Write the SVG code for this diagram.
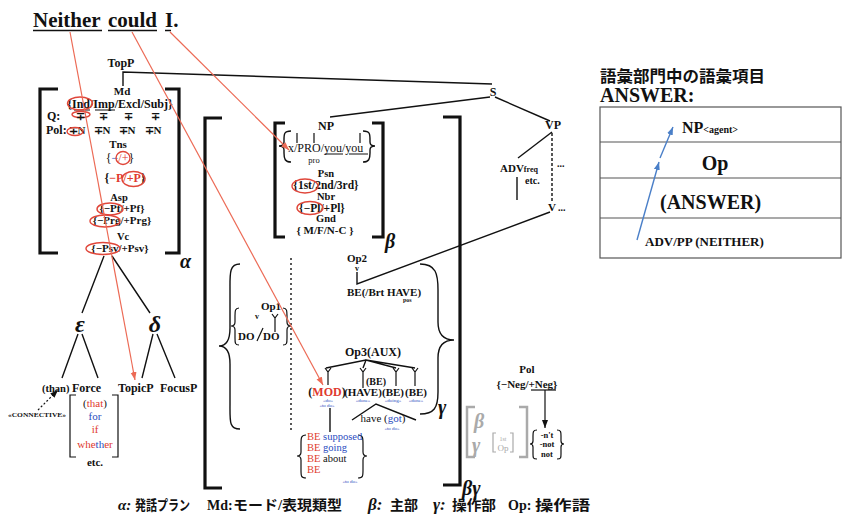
<svg xmlns="http://www.w3.org/2000/svg" width="844" height="516" viewBox="0 0 844 516">
<style>
.t{font-family:"Liberation Serif",serif;font-weight:bold;fill:#111}
.n{font-family:"Liberation Serif",serif;fill:#111}
.j{font-family:"Liberation Serif","Noto Sans CJK JP",sans-serif;font-weight:bold;fill:#111}
.g{font-family:"Liberation Serif",serif;font-weight:bold;font-style:italic;fill:#111}
.c{text-anchor:middle}
.red{fill:#e0392e}
.blu{fill:#2a4cc0}
.gr{fill:#aaa}
.ln{stroke:#111;fill:none;stroke-width:1.4}
.bk{stroke:#111;fill:none;stroke-width:3.2}
.br{stroke:#111;fill:none;stroke-width:1.2}
.rl{stroke:#ec6a55;stroke-width:1.2;fill:none}
.el{stroke:#e0463a;stroke-width:1.4;fill:none}
.tiny{font-family:"Liberation Serif",serif;font-size:5px;fill:#2a4cc0;text-anchor:middle}
</style>
<defs>
<marker id="ar" markerWidth="9" markerHeight="7" refX="8" refY="3" orient="auto" markerUnits="userSpaceOnUse"><path d="M0,0 L8,3 L0,6 z" fill="#ec6a55"/></marker>
<marker id="ab" markerWidth="9" markerHeight="7" refX="8" refY="3" orient="auto" markerUnits="userSpaceOnUse"><path d="M0,0 L8,3 L0,6 z" fill="#111"/></marker>
<marker id="au" markerWidth="9" markerHeight="7" refX="8" refY="3" orient="auto" markerUnits="userSpaceOnUse"><path d="M0,0 L8,3 L0,6 z" fill="#4a7fc8"/></marker>
</defs>
<rect width="844" height="516" fill="#fff"/>

<g id="title">
<text class="t" x="33" y="27" font-size="21">Neither</text>
<text class="t" x="108" y="27" font-size="21">could</text>
<text class="t" x="165" y="27" font-size="21">I.</text>
<path class="ln" d="M33,30.5H102M108,30.5H157M165,30.5H171"/>
</g>

<g id="alpha">
<text class="t c" x="121" y="67" font-size="12">TopP</text>
<text class="t c" x="122" y="94.5" font-size="11">Md</text>
<text class="t c" x="120" y="108" font-size="12">{Ind/Imp/Excl/Subj}</text>
<path class="br" d="M74,110H90M95,110H115"/>
<ellipse class="el" cx="80" cy="103.5" rx="12.5" ry="6.5"/>
<ellipse class="el" cx="81" cy="114.5" rx="9" ry="3"/>
<text class="t" x="47" y="120" font-size="12">Q:</text>
<text class="t c" x="80" y="120" font-size="11">∓</text>
<text class="t c" x="103" y="120" font-size="11">∓</text>
<text class="t c" x="128" y="120" font-size="11">∓</text>
<text class="t c" x="155" y="120" font-size="11">∓</text>
<text class="t" x="46" y="134" font-size="12">Pol:</text>
<text class="t c" x="77" y="134" font-size="11">∓N</text>
<text class="t c" x="102" y="134" font-size="11">∓N</text>
<text class="t c" x="127" y="134" font-size="11">∓N</text>
<text class="t c" x="153" y="134" font-size="11">∓N</text>
<ellipse class="el" cx="75" cy="131.5" rx="8" ry="4"/>
<text class="t c" x="118" y="148" font-size="11">Tns</text>
<text class="n c" x="120" y="162" font-size="12">{<tspan class="blu">−</tspan><tspan class="red">/+</tspan>}</text>
<ellipse class="el" cx="123" cy="158" rx="7" ry="6.5"/>
<text class="t c" x="125" y="182" font-size="12">{<tspan class="red">−P/+P</tspan>}</text>
<ellipse class="el" cx="133.5" cy="179" rx="11.5" ry="7.5"/>
<text class="t c" x="119" y="200.5" font-size="10.5">Asp</text>
<text class="t c" x="122" y="212" font-size="11">{−Pf/+Pf}</text>
<ellipse class="el" cx="110" cy="209" rx="13" ry="6"/>
<text class="t c" x="122" y="224" font-size="11">{−Prg/+Prg}</text>
<ellipse class="el" cx="105" cy="221" rx="15" ry="6"/>
<text class="t c" x="123" y="239.5" font-size="10.5">Vc</text>
<text class="t c" x="120" y="251.5" font-size="11">{−Psv/+Psv}</text>
<ellipse class="el" cx="103" cy="248.5" rx="17" ry="6"/>
<path class="bk" d="M58,89H40V253H58M165,89H179V253H165"/>
<text class="g" x="180" y="268" font-size="20">α</text>
</g>

<g id="eps">
<text class="g c" x="80" y="332" font-size="24">ε</text>
</g>
<g id="delta">
<text class="g c" x="155" y="332" font-size="24">δ</text>
</g>
<g id="leaves">
<text class="t" x="42" y="392" font-size="10.5">(than)</text>
<text class="t" x="72" y="392" font-size="12">Force</text>
<text class="t" x="118" y="392" font-size="12">TopicP</text>
<text class="t" x="160" y="392" font-size="12">FocusP</text>
</g>
<g id="connective">
<text class="t" x="8" y="417" font-size="6" textLength="58" lengthAdjust="spacingAndGlyphs">«CONNECTIVE»</text>
</g>
<g id="force-list">
<path class="br" stroke-width="2" d="M76,395H70V457H76M112,395H118V457H112"/>
<text class="n c" x="95" y="407" font-size="11">(<tspan class="red">that</tspan>)</text>
<text class="n c blu" x="95" y="420" font-size="11">for</text>
<text class="n c red" x="95" y="433" font-size="11">if</text>
<text class="n c red" x="95" y="448" font-size="11">whe<tspan class="blu">th</tspan>er</text>
<text class="t c" x="95" y="466" font-size="11">etc.</text>
</g>

<g id="np">
<path class="bk" stroke-width="3" d="M285,123H275V237H285M372,123H383V237H372"/>
<text class="g" x="385" y="248" font-size="20">β</text>
<text class="t c" x="326" y="130" font-size="12">NP</text>
<path class="ln" stroke-width="2" d="M291,131C284,131 284,134 284,140V142C284,145 282,146 279,146C282,146 284,147 284,150V153C284,159 285,162 291,162"/>
<path class="ln" stroke-width="2" d="M363,131C370,131 370,134 370,140V142C370,145 372,146 375,146C372,146 370,147 370,150V153C370,159 369,162 363,162"/>
<path class="br" d="M297,133V143M314,133V143M360,133V143"/>
<text class="n" x="288" y="152" font-size="12">x/PRO/you/you</text>
<path class="br" stroke-width="0.9" d="M325,154H343M349,154H368"/>
<text class="n c" x="314" y="163" font-size="8.5">pro</text>
<text class="t c" x="326" y="177" font-size="10.5">Psn</text>
<text class="t c" x="326" y="189" font-size="11.5">{1st/2nd/3rd}</text>
<ellipse class="el" cx="305" cy="186" rx="13" ry="7"/>
<text class="t c" x="326" y="199.5" font-size="10.5">Nbr</text>
<text class="t c" x="322" y="212" font-size="11.5">{−Pl/+Pl}</text>
<ellipse class="el" cx="310" cy="208" rx="13" ry="6.5"/>
<text class="t c" x="326" y="222" font-size="10.5">Gnd</text>
<text class="t c" x="325" y="233.5" font-size="11">{ M/F/N-C }</text>
</g>

<g id="S"><text class="t c" x="493" y="96" font-size="12">S</text></g>
<g id="VP"><text class="t c" x="553" y="129" font-size="12">VP</text></g>
<g id="advfreq">
<text class="t" x="500" y="172" font-size="11">ADV<tspan font-size="8">freq</tspan></text>
<text class="t" x="525" y="184" font-size="10">etc.</text>
<path class="ln" d="M517,177V200"/>
<text class="t" x="557" y="167" font-size="10">...</text>
</g>
<g id="V">
<text class="t" x="548" y="211" font-size="11">V</text>
<text class="t" x="558" y="211" font-size="10">...</text>
</g>

<g id="gamma-frame">
<path class="bk" d="M222,118H205V488H222M443,117H460V485H443"/>
<text class="g" x="462" y="495" font-size="20">βγ</text>
<path class="ln" stroke-width="4" d="M240,264C229,264 230,274 230,290V328C230,340 227,346 219,346C227,346 230,352 230,364V405C230,421 229,429 240,429"/>
<path class="ln" stroke-width="4" d="M420,264C436,264 438,274 438,290V322C438,334 444,340 454,340C444,340 438,346 438,358V392C438,408 434,414 420,414"/>
<text class="g" x="438" y="414" font-size="20">γ</text>
<path class="ln" stroke-dasharray="2,3" stroke-width="1.6" d="M291,258V430"/>
</g>

<g id="op1">
<path class="br" stroke-width="1.3" d="M239,308C235,308 235,311 235,316V322C235,325 233,326 231,326C233,326 235,327 235,330V338C235,343 235,345 239,345"/>
<path class="br" stroke-width="1.3" d="M283,308C287,308 287,311 287,316V322C287,325 289,326 291,326C289,326 287,327 287,330V338C287,343 287,345 283,345"/>
<text class="t c" x="271" y="310" font-size="11">Op1</text>
<text class="t c" x="257" y="319" font-size="8">v</text>
<path class="br" d="M272,314L275,318L278,314M275,318V332"/>
<text class="t" x="238" y="340" font-size="11">DO</text>
<path class="br" stroke-width="1.6" d="M257,341L263,328"/>
<text class="t" x="263" y="340" font-size="11">DO</text>
</g>

<g id="op2">
<text class="t c" x="357" y="262" font-size="11">Op2</text>
<text class="t c" x="357" y="271" font-size="8">v</text>
<text class="t" x="347" y="296" font-size="11">BE(/Brt HAVE)</text>
<text class="t" x="403" y="302" font-size="6">pos</text>
</g>

<g id="op3">
<text class="t c" x="373" y="356" font-size="12">Op3(AUX)</text>
<path class="ln" d="M326,368L366,360L415,368M363,368L366,360L396,368"/>
<path class="br" stroke="#e0392e" d="M325,368L328,372L331,368M328,372V385"/>
<path class="br" d="M360,368L363,372L366,368M363,372V388M393,368L396,372L399,368M396,372V386M412,368L415,372L418,368M415,372V386"/>
<text class="t" x="366" y="385" font-size="10">(BE)</text>
<text class="t c" x="327" y="396" font-size="12">(<tspan class="red">MOD</tspan>)</text>
<text class="t c" x="363" y="396" font-size="11">(HAVE)</text>
<text class="t c" x="393" y="396" font-size="11">(BE)</text>
<text class="t c" x="416" y="396" font-size="11">(BE)</text>
<text class="tiny" x="328" y="402">«do»</text>
<text class="tiny" x="327" y="407">«to do»</text>
<text class="tiny" x="363" y="402">«done»</text>
<text class="tiny" x="393" y="402">«doing»</text>
<text class="tiny" x="416" y="402">«done»</text>
<path class="ln" d="M352,420L376,404L416,420"/>
<text class="n c" x="383" y="422" font-size="11">have (<tspan class="blu">got</tspan>)</text>
<text class="tiny" x="392" y="430">«to do»</text>
<path class="ln" stroke-width="1.6" d="M330,408V432"/>
</g>

<g id="be-list">
<path class="br" stroke-width="1.4" d="M306,435C301,435 301,438 301,444V452C301,455 299,456 297,456C299,456 301,457 301,460V470C301,476 301,478 306,478"/>
<path class="br" stroke-width="1.4" d="M358,435C363,435 363,438 363,444V452C363,455 365,456 367,456C365,456 363,457 363,460V470C363,476 363,478 358,478"/>
<text class="n" x="307" y="440" font-size="10.5"><tspan class="red">BE</tspan> <tspan class="blu">supposed</tspan></text>
<text class="n" x="307" y="451" font-size="10.5"><tspan class="red">BE</tspan> <tspan class="blu">going</tspan></text>
<text class="n" x="307" y="462" font-size="10.5"><tspan class="red">BE</tspan> about</text>
<text class="n red" x="307" y="473" font-size="10.5">BE</text>
<text class="tiny" x="350" y="483">«to do»</text>
</g>

<g id="pol">
<text class="t c" x="527" y="373" font-size="11">Pol</text>
<text class="t c" x="527" y="388" font-size="11">{−Neg/+Neg}</text>
<path class="br" d="M531,390H556"/>
<path class="br" marker-end="url(#ab)" d="M545,390V428"/>
<text class="t c" x="547" y="437.5" font-size="8.5">-n't</text>
<text class="t c" x="547" y="447" font-size="8.5">-not</text>
<text class="t c" x="547" y="456.5" font-size="8.5">not</text>
<path class="br" stroke-width="1.4" d="M537,430C533,430 533,432 533,436V441C533,443 532,444 530,444C532,444 533,445 533,447V454C533,458 533,459 537,459"/>
<path class="br" stroke-width="1.4" d="M557,430C561,430 561,432 561,436V441C561,443 562,444 564,444C562,444 561,445 561,447V454C561,458 561,459 557,459"/>
</g>
<g id="gray-bracket">
<path stroke="#aaa" fill="none" stroke-width="2.5" d="M475,407H467V457H475M519,407H527V457H519"/>
<text class="g gr" x="474" y="428" font-size="20" font-weight="normal">β</text>
<text class="g gr" x="472" y="452" font-size="20" font-weight="normal">γ</text>
<path stroke="#aaa" fill="none" stroke-width="1.2" d="M496,433H493V452H496M510,433H513V452H510"/>
<text class="n gr c" x="503" y="441" font-size="6">1st</text>
<text class="n gr c" x="503" y="451" font-size="9">Op</text>
</g>

<g id="connectors">
<path class="ln" d="M123,86V72L492,84"/>
<path class="ln" d="M490,97L330,117"/>
<path class="ln" d="M495,97L550,121"/>
<path class="ln" d="M552,132L518,158"/>
<path class="ln" stroke-dasharray="3,2" d="M552,133V203"/>
<path class="ln" d="M357,272V284L550,212"/>
<path class="ln" stroke-width="1.6" d="M104,256L82,313M112,256L150,313"/>
<path class="ln" stroke-width="1.6" d="M78,334L62,378M82,334L98,378"/>
<path class="ln" stroke-width="1.6" d="M153,334L142,378M157,334L175,378"/>
<path class="br" stroke-dasharray="2,2" marker-end="url(#ab)" d="M38,410L58,390"/>
<path class="rl" marker-end="url(#ar)" d="M70,32L135,380"/>
<path class="rl" marker-end="url(#ar)" d="M132,32L323,385"/>
<path class="rl" marker-end="url(#ar)" d="M170,32L289,150"/>
</g>

<g id="lexicon">
<text class="j" x="600" y="82" font-size="16" textLength="165" lengthAdjust="spacingAndGlyphs">語彙部門中の語彙項目</text>
<text class="t" x="600" y="102" font-size="20">ANSWER:</text>
<rect x="600" y="107" width="241" height="151" fill="none" stroke="#555" stroke-width="1.2"/>
<path stroke="#555" stroke-width="1.2" fill="none" d="M600,142H841M600,178H841M600,218H841"/>
<text class="t" x="682" y="133" font-size="16">NP<tspan font-size="10">&lt;agent&gt;</tspan></text>
<text class="t c" x="715" y="170" font-size="20">Op</text>
<text class="t" x="660" y="209" font-size="20">(ANSWER)</text>
<text class="t" x="645" y="246" font-size="13">ADV/PP (NEITHER)</text>
<path stroke="#4a7fc8" stroke-width="1.4" fill="none" marker-end="url(#au)" d="M637,240L659,162"/>
<path stroke="#4a7fc8" stroke-width="1.4" fill="none" marker-end="url(#au)" d="M660,158L673,127"/>
</g>

<g id="legend">
<text class="g" x="118" y="510" font-size="15">α:</text>
<text class="j" x="135" y="510" font-size="14" textLength="55" lengthAdjust="spacingAndGlyphs">発話プラン</text>
<text class="t" x="207" y="510" font-size="14">Md:</text>
<text class="j" x="233" y="510" font-size="14" textLength="109" lengthAdjust="spacingAndGlyphs">モード/表現類型</text>
<text class="g" x="368" y="510" font-size="17">β:</text>
<text class="j" x="390" y="510" font-size="14" textLength="28" lengthAdjust="spacingAndGlyphs">主部</text>
<text class="g" x="433" y="510" font-size="17">γ:</text>
<text class="j" x="452" y="510" font-size="14" textLength="44" lengthAdjust="spacingAndGlyphs">操作部</text>
<text class="t" x="508" y="510" font-size="14">Op:</text>
<text class="j" x="535" y="510" font-size="14" textLength="55" lengthAdjust="spacingAndGlyphs">操作語</text>
</g>
</svg>
